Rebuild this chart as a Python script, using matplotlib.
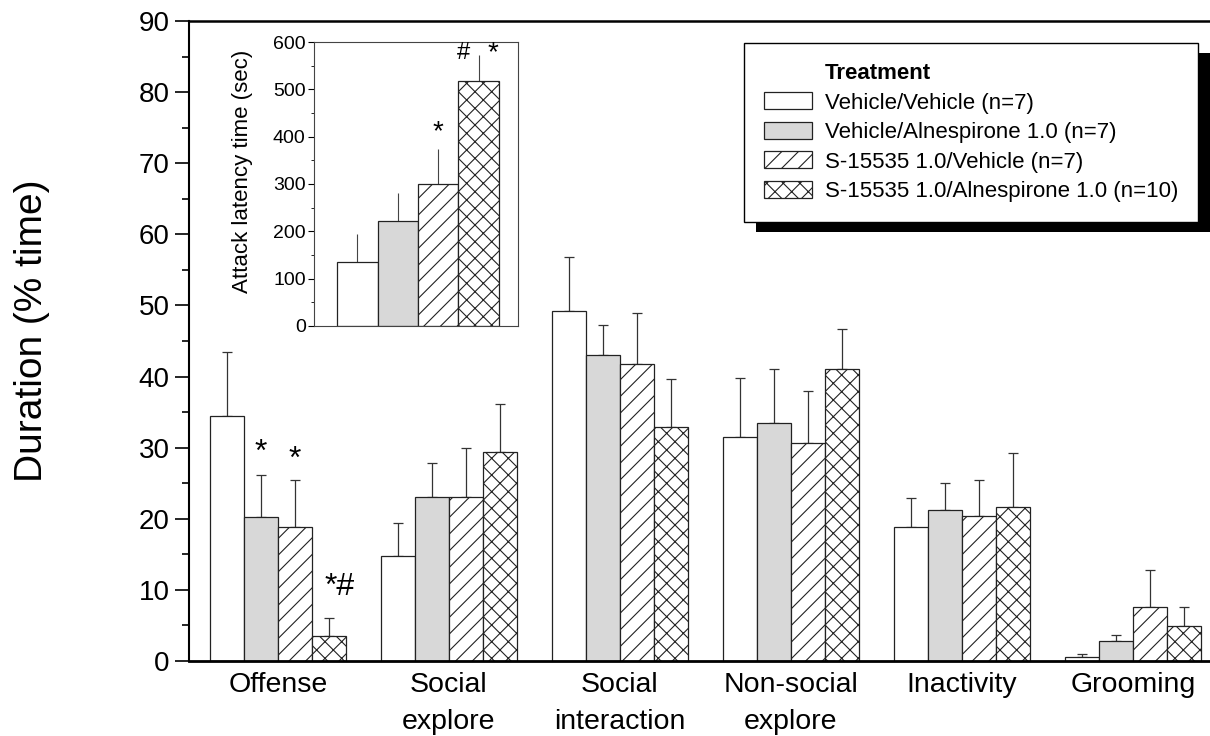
import numpy as np
import matplotlib
matplotlib.use("Agg")
import matplotlib.pyplot as plt
from matplotlib.patches import Patch, Rectangle
from matplotlib.ticker import MultipleLocator

plt.rcParams['font.family'] = ['Liberation Sans', 'DejaVu Sans']
plt.rcParams['hatch.linewidth'] = 0.8

categories = ["Offense", "Social\nexplore", "Social\ninteraction",
              "Non-social\nexplore", "Inactivity", "Grooming"]
groups = ["Vehicle/Vehicle (n=7)", "Vehicle/Alnespirone 1.0 (n=7)",
          "S-15535 1.0/Vehicle (n=7)", "S-15535 1.0/Alnespirone 1.0 (n=10)"]

# duration (% time), mean and SEM per treatment
veh_veh = [34.5, 14.8, 49.2, 31.5, 18.9, 0.6]
veh_veh_sem = [8.9, 4.6, 7.6, 8.3, 4.0, 0.4]
veh_aln = [20.2, 23.0, 43.0, 33.5, 21.2, 2.8]
veh_aln_sem = [5.9, 4.9, 4.2, 7.5, 3.8, 0.8]
s_veh = [18.8, 23.1, 41.8, 30.7, 20.4, 7.6]
s_veh_sem = [6.7, 6.8, 7.1, 7.3, 5.1, 5.2]
s_aln = [3.5, 29.4, 32.9, 41.0, 21.7, 4.9]
s_aln_sem = [2.5, 6.7, 6.8, 5.7, 7.5, 2.7]

# inset: attack latency (sec)
latency = [136, 221, 299, 517]
latency_sem = [59, 60, 76, 55]

means = [veh_veh, veh_aln, s_veh, s_aln]
sems = [veh_veh_sem, veh_aln_sem, s_veh_sem, s_aln_sem]
fills = ['white', '#d8d8d8', 'white', 'white']
hatches = [None, None, '//', 'xx']

fig = plt.figure(figsize=(12.1, 7.36), dpi=100)
ax = fig.add_axes([189/1210, 1-661/736, 1-189/1210, (661-21)/736])

x = np.arange(len(categories))
w = 0.2
handles = []
for i in range(4):
    pos = x + (i - 1.5) * w
    ax.bar(pos, means[i], w, color=fills[i], edgecolor='#222222',
           linewidth=0.9, hatch=hatches[i], zorder=2)
    ax.errorbar(pos, means[i], yerr=[np.zeros(6), sems[i]], fmt='none',
                ecolor='#333333', elinewidth=0.9, capsize=3.6, capthick=0.9, zorder=1)
    handles.append(Patch(facecolor=fills[i], edgecolor='#222222', linewidth=0.9,
                         hatch=hatches[i], label=groups[i]))

ax.set_xlim(-0.52, 5.45)
ax.set_ylim(0, 90)
ax.yaxis.set_major_locator(MultipleLocator(10))
ax.yaxis.set_minor_locator(MultipleLocator(5))
ax.tick_params(axis='y', which='major', length=10, width=1.2, labelsize=20, pad=4)
ax.tick_params(axis='y', which='minor', length=5, width=1.2)
ax.set_xticks(x)
ax.set_xticklabels(categories, fontsize=20.5, linespacing=1.55)
ax.tick_params(axis='x', length=0, pad=8)
ax.spines['right'].set_visible(False)
ax.spines['bottom'].set_linewidth(2)
ax.spines['top'].set_linewidth(1.8)
ax.spines['left'].set_linewidth(1.5)

fig.text(32/1210, 1-331/736, "Duration (% time)", rotation=90,
         ha='center', va='center', fontsize=28)

# significance marks in main panel
top = lambda i, j: means[i][j] + sems[i][j]
ax.text(x[0] - 0.5*w, top(1, 0) + 3.2, "*", ha='center', va='center', fontsize=23)
ax.text(x[0] + 0.5*w, top(2, 0) + 2.8, "*", ha='center', va='center', fontsize=23)
ax.text(x[0] + 1.5*w + 0.06, top(3, 0) + 4.4, "*#", ha='center', va='center', fontsize=23)

# legend with solid black drop shadow
lab = [Patch(visible=False, label="Treatment")] + handles
leg = ax.legend(handles=lab, loc='upper right',
                bbox_to_anchor=(1198/1210, 1-43/736), bbox_transform=fig.transFigure,
                borderaxespad=0, fontsize=16, frameon=True, fancybox=False,
                edgecolor='black', framealpha=1, handlelength=2.2, handleheight=0.8,
                handletextpad=0.55, labelspacing=0.37, borderpad=0.9)
leg.get_frame().set_linewidth(1.0)
leg.get_texts()[0].set_fontweight('bold')

# inset
ins = fig.add_axes([314/1210, 1-326/736, 204/1210, (326-42)/736])
xi = np.arange(4)
for i in range(4):
    ins.bar(xi[i], latency[i], 1.0, color=fills[i], edgecolor='#222222',
            linewidth=0.9, hatch=hatches[i], zorder=2)
    ins.errorbar(xi[i], latency[i], yerr=[[0], [latency_sem[i]]], fmt='none',
                 ecolor='#444444', elinewidth=0.8, capsize=0, zorder=1)
ins.set_xlim(-1.07, 3.97)
ins.set_ylim(0, 600)
ins.set_xticks([])
ins.yaxis.set_major_locator(MultipleLocator(100))
ins.yaxis.set_minor_locator(MultipleLocator(50))
ins.tick_params(axis='y', which='major', length=4, width=0.8, labelsize=14, pad=2)
ins.tick_params(axis='y', which='minor', length=2, width=0.6)
for s in ins.spines.values():
    s.set_linewidth(0.8)
    s.set_color('#444444')
ins.set_ylabel("Attack latency time (sec)", fontsize=16)
ins.yaxis.set_label_coords(-0.30, 0.546)
ins.text(xi[2], latency[2] + latency_sem[2] + 34, "*", ha='center', va='center', fontsize=20)
ins.text(xi[3] - 0.37, latency[3] + latency_sem[3] + 5, "#", ha='center', va='center', fontsize=17)
ins.text(xi[3] + 0.35, latency[3] + latency_sem[3] + 5, "*", ha='center', va='center', fontsize=20)

fig.canvas.draw()
bb = leg.get_window_extent().transformed(fig.transFigure.inverted())
off_x, off_y = 12/1210, 10/736
ax.add_patch(Rectangle((bb.x0 + off_x, bb.y0 - off_y), bb.width, bb.height,
                       transform=fig.transFigure, facecolor='black', edgecolor='none',
                       zorder=4.9, clip_on=False))

fig.savefig("out.png", dpi=100)
